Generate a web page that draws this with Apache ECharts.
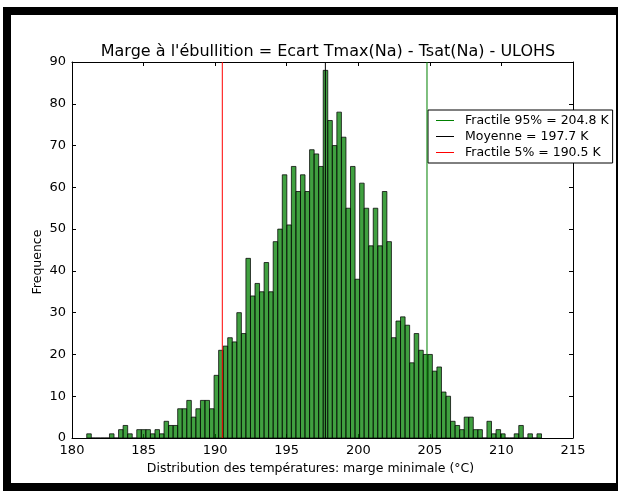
<!DOCTYPE html>
<html lang="fr" style="height: 100%">
<head>
    <meta charset="utf-8">
    <title>Marge à l'ébullition</title>
</head>
<body style="height: 100%; margin: 0; background: #fff">
    <div id="container" style="width: 618px; height: 491px"></div>
    <script src="https://cdn.jsdelivr.net/npm/echarts@6/dist/echarts.min.js"></script>
    <script>
        // histogramme : 100 classes entre binMin et binMax
        var binMin = 181.03;
        var binMax = 212.80;
        var counts = [
            1, 0, 0, 0, 0, 1, 0, 2, 3, 1,
            0, 2, 2, 2, 1, 2, 1, 4, 3, 3,
            7, 7, 9, 5, 7, 9, 9, 7, 15, 21,
            22, 24, 23, 30, 25, 43, 34, 37, 35, 42,
            35, 47, 50, 63, 51, 65, 59, 63, 59, 69,
            68, 65, 88, 76, 70, 78, 72, 55, 65, 38,
            61, 55, 46, 55, 46, 59, 47, 24, 28, 29,
            27, 18, 25, 21, 20, 20, 16, 17, 11, 10,
            4, 3, 2, 5, 5, 2, 2, 0, 4, 1,
            2, 1, 0, 0, 1, 3, 0, 1, 0, 1
        ];
        // lignes verticales (fractiles et moyenne)
        var lineNames = ['Fractile 95% = 204.8 K', 'Moyenne = 197.7 K', 'Fractile 5% = 190.5 K'];
        var lineValues = [204.8, 197.7, 190.5];
        var lineColors = ['#008000', '#000000', '#ff0000'];
        var xTicks = [180, 215, 5];
        var yTicks = [0, 90, 10];

        var binWidth = (binMax - binMin) / counts.length;
        var bins = counts.map(function (c, i) {
            return [binMin + i * binWidth, binMin + (i + 1) * binWidth, c];
        });

        var dom = document.getElementById('container');
        var myChart = echarts.init(dom, null, { renderer: 'canvas' });

        var font = 'DejaVu Sans';
        var axisBase = {
            type: 'value',
            axisLine: { show: true, onZero: false, lineStyle: { color: '#000', width: 1 } },
            axisTick: { show: true, inside: true, length: 4, lineStyle: { color: '#000' } },
            splitLine: { show: false },
            axisLabel: { color: '#000', fontFamily: font, fontSize: 13, margin: 6 }
        };
        function axis(extra) { return Object.assign({}, JSON.parse(JSON.stringify(axisBase)), extra); }

        var lineSeries = lineValues.map(function (v, k) {
            return {
                name: lineNames[k],
                type: 'line',
                symbol: 'none',
                silent: true,
                z: 5,
                lineStyle: { color: lineColors[k], width: 1 },
                itemStyle: { color: lineColors[k] },
                data: [[v, yTicks[0]], [v, yTicks[1]]]
            };
        });

        var option = {
            animation: false,
            textStyle: { fontFamily: font },
            title: {
                text: "Marge à l'ébullition = Ecart Tmax(Na) - Tsat(Na) - ULOHS",
                left: 323,
                top: 39,
                textAlign: 'center',
                textStyle: { fontFamily: font, fontSize: 16, fontWeight: 'normal', color: '#000' }
            },
            grid: { left: 72, right: 45, top: 62, bottom: 53, containLabel: false },
            legend: {
                orient: 'vertical',
                left: 428,
                top: 110,
                width: 186,
                data: lineNames,
                backgroundColor: '#fff',
                borderColor: '#000',
                borderWidth: 1,
                borderRadius: 0,
                padding: [4, 4, 4, 8],
                itemGap: 3,
                itemWidth: 18,
                itemHeight: 14,
                icon: 'path://M0,6 L18,6 L18,7 L0,7 Z',
                textStyle: { fontFamily: font, fontSize: 12.5, color: '#000', padding: [0, 0, 0, 6] }
            },
            xAxis: [
                axis({
                    min: xTicks[0], max: xTicks[1], interval: xTicks[2],
                    position: 'bottom',
                    name: 'Distribution des températures: marge minimale (°C)',
                    nameLocation: 'middle',
                    nameGap: 21,
                    nameTextStyle: { fontFamily: font, fontSize: 12.5, color: '#000', padding: [0, 24, 0, 0] }
                }),
                axis({
                    min: xTicks[0], max: xTicks[1], interval: xTicks[2],
                    position: 'top',
                    axisLabel: { show: false }
                })
            ],
            yAxis: [
                axis({
                    min: yTicks[0], max: yTicks[1], interval: yTicks[2],
                    position: 'left',
                    name: 'Frequence',
                    nameLocation: 'middle',
                    nameGap: 28,
                    nameMoveOverlap: false,
                    nameTextStyle: { fontFamily: font, fontSize: 12.5, color: '#000', padding: [0, 24, 0, 0] }
                }),
                axis({
                    min: yTicks[0], max: yTicks[1], interval: yTicks[2],
                    position: 'right',
                    axisLabel: { show: false }
                })
            ],
            graphic: [{
                type: 'rect',
                z: 100,
                silent: true,
                shape: { x: 7, y: 11, width: 613, height: 476 },
                style: { fill: null, stroke: '#000', lineWidth: 8 }
            }],
            series: [{
                type: 'custom',
                z: 2,
                renderItem: function (params, api) {
                    var p0 = api.coord([api.value(0), api.value(2)]);
                    var p1 = api.coord([api.value(1), 0]);
                    return {
                        type: 'rect',
                        shape: { x: p0[0], y: p0[1], width: p1[0] - p0[0], height: p1[1] - p0[1] },
                        style: { fill: 'rgba(0,128,0,0.75)', stroke: 'rgba(0,0,0,0.75)', lineWidth: 1 }
                    };
                },
                encode: { x: [0, 1], y: 2 },
                data: bins
            }].concat(lineSeries)
        };

        myChart.setOption(option);
        window.addEventListener('resize', myChart.resize);
    </script>
</body>
</html>
